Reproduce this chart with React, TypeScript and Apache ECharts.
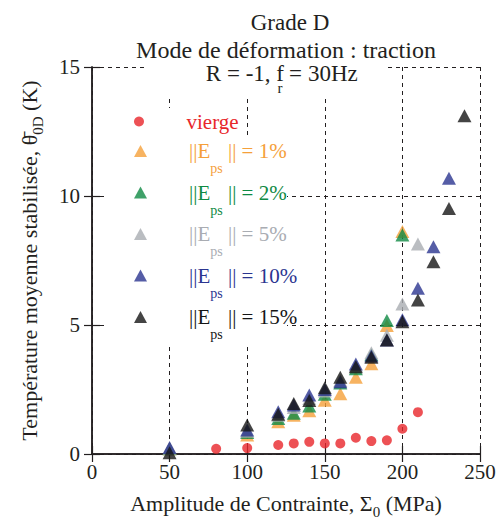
import React, { useEffect, useRef } from 'react';
import * as echarts from 'echarts';

const FONT = 'Liberation Serif';
const INK = '#231f20';

// Axis ticks
const xTicks = [0, 50, 100, 150, 200, 250];
const yTicks = [0, 5, 10, 15];

// Series: stress amplitude (MPa) and stabilised mean temperature (K)
const stressVierge = [80, 100, 120, 130, 140, 150, 160, 170, 180, 190, 200, 210];
const tempVierge = [0.2, 0.23, 0.35, 0.41, 0.47, 0.41, 0.41, 0.63, 0.5, 0.53, 0.98, 1.62];

const stress1 = [50, 100, 120, 130, 140, 150, 160, 170, 180, 190, 200];
const temp1 = [0.2, 0.74, 1.25, 1.5, 1.68, 2.08, 2.34, 2.97, 3.5, 4.98, 8.62];

const stress2 = [50, 100, 120, 130, 140, 150, 160, 170, 180, 190, 200];
const temp2 = [0.2, 0.83, 1.38, 1.58, 1.86, 2.32, 2.75, 3.3, 3.85, 5.17, 8.49];

const stress5 = [50, 100, 120, 130, 140, 150, 160, 170, 180, 190, 200, 210];
const temp5 = [0.22, 0.88, 1.5, 1.8, 2.15, 2.44, 2.85, 3.42, 3.92, 4.6, 5.81, 8.14];

const stress10 = [50, 100, 120, 130, 140, 150, 160, 170, 180, 190, 200, 210, 220, 230];
const temp10 = [0.25, 0.93, 1.64, 1.9, 2.29, 2.5, 2.8, 3.49, 3.8, 4.42, 5.2, 6.42, 8.03, 10.69];

const stress15 = [50, 100, 120, 130, 140, 150, 160, 170, 180, 190, 200, 210, 220, 230, 240];
const temp15 = [0.05, 1.12, 1.54, 1.96, 2.07, 2.57, 2.97, 3.38, 3.75, 4.42, 5.13, 5.97, 7.45, 9.52, 13.11];

const ePercents = ['1', '2', '5', '10', '15'];
const eColors = ['#f5a03a', '#0f8a44', '#a9acb2', '#2b3590', '#151515'];
const eStress = [stress1, stress2, stress5, stress10, stress15];
const eTemp = [temp1, temp2, temp5, temp10, temp15];
const RED = '#e8262a';

const zip = (xs: number[], ys: number[]) => xs.map((x, i) => [x, ys[i]]);

export default function App() {
  const ref = useRef<HTMLDivElement>(null);
  useEffect(() => {
    document.body.style.margin = '0';
    if (!ref.current) return;
    const chart = echarts.init(ref.current, undefined, { renderer: 'svg' });

    const legendRich: Record<string, any> = {
      v: { fontFamily: FONT, fontSize: 21, color: RED, lineHeight: 24, padding: [0, 0, 0, 37] },
    };
    ePercents.forEach((_, i) => {
      legendRich['f' + i] = { fontFamily: FONT, fontSize: 21, color: eColors[i], padding: [0, 0, 0, 37] };
      legendRich['m' + i] = { fontFamily: FONT, fontSize: 21, color: eColors[i] };
      legendRich['s' + i] = {
        fontFamily: FONT,
        fontSize: 14,
        color: eColors[i],
        lineHeight: 14,
        padding: [35, 0, 0, 0],
      };
    });

    const series: any[] = [
      {
        name: 'vierge',
        type: 'scatter',
        symbol: 'circle',
        symbolSize: 10,
        itemStyle: { color: RED },
        data: zip(stressVierge, tempVierge),
      },
    ];
    ePercents.forEach((p, i) => {
      series.push({
        name: 'E' + p,
        type: 'scatter',
        symbol: 'triangle',
        symbolSize: [14, 13],
        itemStyle: { color: eColors[i] },
        data: zip(eStress[i], eTemp[i]),
      });
    });

    const nameRich = {
      s: { fontFamily: FONT, fontSize: 15, color: INK, lineHeight: 15, padding: [18, 0, 0, 0] },
    };

    const baseAxis = {
      type: 'value' as const,
      axisLine: { show: true, lineStyle: { color: INK, width: 1.5 } },
      axisTick: { show: true, inside: true, length: 8, lineStyle: { color: INK, width: 1.2 } },
    };

    const titleStyle = { fontFamily: FONT, fontSize: 23, fill: INK, verticalAlign: 'middle', lineHeight: 20 };

    const option: any = {
      animation: false,
      backgroundColor: '#ffffff',
      grid: { left: 92, right: 19, top: 67, bottom: 66, outerBoundsMode: 'none', containLabel: false },
      xAxis: [
        {
          ...baseAxis,
          position: 'bottom',
          min: xTicks[0],
          max: xTicks[xTicks.length - 1],
          interval: xTicks[1] - xTicks[0],
          name: 'Amplitude de Contrainte, Σ{s|0} (MPa)',
          nameLocation: 'middle',
          nameGap: 13,
          nameTextStyle: { fontFamily: FONT, fontSize: 22, color: INK, rich: nameRich },
          axisLabel: { color: INK, fontFamily: FONT, fontSize: 21, margin: 7 },
          splitLine: { show: true, lineStyle: { color: INK, type: [4, 4], width: 1 } },
        },
        {
          ...baseAxis,
          position: 'top',
          min: xTicks[0],
          max: xTicks[xTicks.length - 1],
          interval: xTicks[1] - xTicks[0],
          axisLabel: { show: false },
          splitLine: { show: false },
        },
      ],
      yAxis: [
        {
          ...baseAxis,
          position: 'left',
          min: yTicks[0],
          max: yTicks[yTicks.length - 1],
          interval: yTicks[1] - yTicks[0],
          name: 'Température moyenne stabilisée, θ\u0304{s|0D} (K)',
          nameLocation: 'middle',
          nameGap: 52,
          nameTextStyle: { fontFamily: FONT, fontSize: 22, color: INK, rich: nameRich },
          axisLabel: { color: INK, fontFamily: FONT, fontSize: 21, margin: 12 },
          splitLine: { show: true, lineStyle: { color: INK, type: [4, 4], width: 1 } },
        },
        {
          ...baseAxis,
          position: 'right',
          min: yTicks[0],
          max: yTicks[yTicks.length - 1],
          interval: yTicks[1] - yTicks[0],
          axisLabel: { show: false },
          splitLine: { show: false },
        },
      ],
      legend: [
        {
          orient: 'vertical',
          left: 134,
          top: 111,
          padding: 0,
          itemWidth: 11,
          itemHeight: 10,
          selectedMode: false,
          data: [{ name: 'vierge', icon: 'circle' }],
          formatter: () => '{v|vierge}',
          textStyle: { rich: legendRich },
        },
        {
          orient: 'vertical',
          left: 134,
          top: 126.5,
          padding: 0,
          itemWidth: 13,
          itemHeight: 12,
          itemGap: -7.5,
          selectedMode: false,
          data: ePercents.map((p) => ({ name: 'E' + p, icon: 'triangle' })),
          formatter: (name: string) => {
            const i = ePercents.indexOf(name.slice(1));
            return `{f${i}|||E}{s${i}|ps}{m${i}| || = ${ePercents[i]}%}`;
          },
          textStyle: { rich: legendRich },
        },
      ],
      graphic: {
        elements: [
          { type: 'rect', z: 3, shape: { x: 145, y: 58, width: 240, height: 38 }, style: { fill: '#fff' } },
          { type: 'rect', z: 3, shape: { x: 106, y: 108, width: 134, height: 235 }, style: { fill: '#fff' } },
          { type: 'rect', z: 3, shape: { x: 240, y: 135, width: 47, height: 208 }, style: { fill: '#fff' } },
          {
            type: 'text', z: 5, x: 290, y: 22,
            style: { ...titleStyle, text: 'Grade D', align: 'center' },
          },
          {
            type: 'text', z: 5, x: 286, y: 50,
            style: { ...titleStyle, fontSize: 24, text: 'Mode de déformation : traction', align: 'center' },
          },
          {
            type: 'text', z: 5, x: 284, y: 73,
            style: { ...titleStyle, lineHeight: 18, text: 'R = -1, f', align: 'right' },
          },
          {
            type: 'text', z: 5, x: 280, y: 88,
            style: { ...titleStyle, fontSize: 15, lineHeight: 11, text: 'r', align: 'center' },
          },
          {
            type: 'text', z: 5, x: 289, y: 73,
            style: { ...titleStyle, lineHeight: 18, text: '=', align: 'left' },
          },
          {
            type: 'text', z: 5, x: 308, y: 73,
            style: { ...titleStyle, lineHeight: 18, text: '30Hz', align: 'left' },
          },
        ],
      },
      series,
    };

    chart.setOption(option);
    return () => chart.dispose();
  }, []);

  return <div ref={ref} style={{ width: 499, height: 520 }} />;
}
